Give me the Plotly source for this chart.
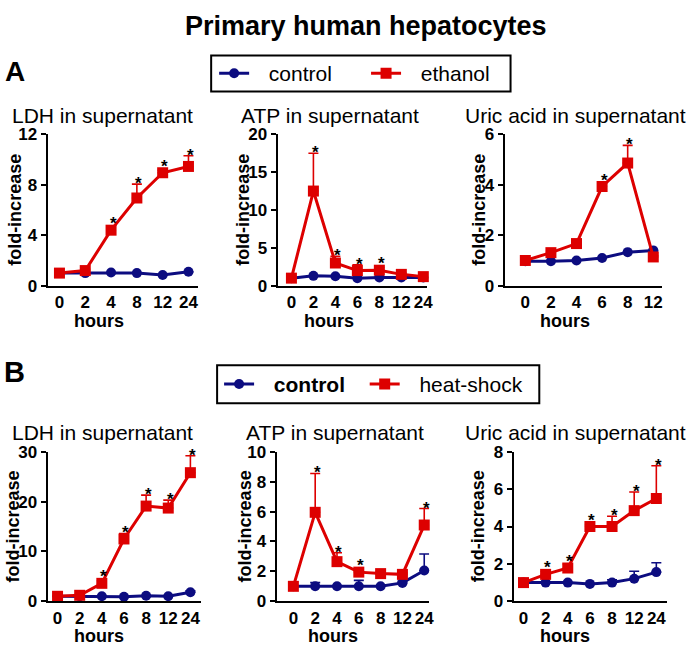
import plotly.graph_objects as go

W, H = 694, 654

# ---------------- data ----------------
hours_A_ldh = ["0", "2", "4", "8", "12", "24"]
hours_A_atp = ["0", "2", "4", "6", "8", "12", "24"]
hours_A_uric = ["0", "2", "4", "6", "8", "12"]
hours_B = ["0", "2", "4", "6", "8", "12", "24"]

A_ldh_control = [1.0, 1.0, 1.05, 1.0, 0.85, 1.1]
A_ldh_control_err = [0, 0, 0, 0, 0, 0]
A_ldh_ethanol = [1.0, 1.2, 4.4, 6.95, 8.95, 9.45]
A_ldh_ethanol_err = [0, 0.1, 0.25, 1.1, 0.2, 0.85]
A_ldh_sig = [0, 0, 1, 1, 1, 1]

A_atp_control = [1.0, 1.3, 1.25, 1.0, 1.1, 1.1, 1.1]
A_atp_control_err = [0, 0, 0, 0, 0, 0, 0]
A_atp_ethanol = [1.0, 12.5, 3.0, 2.0, 2.05, 1.5, 1.2]
A_atp_ethanol_err = [0, 5.0, 0.9, 0.75, 0.35, 0.2, 0]
A_atp_sig = [0, 1, 1, 1, 1, 0, 0]

A_uric_control = [0.97, 0.97, 1.0, 1.1, 1.33, 1.4]
A_uric_control_err = [0, 0, 0, 0, 0, 0]
A_uric_ethanol = [1.0, 1.31, 1.67, 3.93, 4.86, 1.14]
A_uric_ethanol_err = [0, 0.05, 0.05, 0.15, 0.7, 0.05]
A_uric_sig = [0, 0, 0, 1, 1, 0]

B_ldh_control = [1.0, 1.0, 1.0, 0.9, 1.1, 1.0, 1.8]
B_ldh_control_err = [0, 0, 0, 0, 0, 0, 0.3]
B_ldh_heat = [1.0, 1.2, 3.6, 12.5, 19.1, 18.7, 25.8]
B_ldh_heat_err = [0, 0.2, 0.5, 1.1, 2.2, 1.6, 3.4]
B_ldh_sig = [0, 0, 1, 1, 1, 1, 1]

B_atp_control = [1.0, 1.0, 1.0, 1.0, 1.0, 1.23, 2.06]
B_atp_control_err = [0, 0.25, 0, 0.4, 0, 0.1, 1.1]
B_atp_heat = [1.0, 5.95, 2.65, 1.95, 1.85, 1.8, 5.1]
B_atp_heat_err = [0, 2.6, 0.6, 0.15, 0.1, 0.1, 1.1]
B_atp_sig = [0, 1, 1, 1, 0, 0, 1]

B_uric_control = [1.0, 1.0, 1.0, 0.93, 1.0, 1.21, 1.56]
B_uric_control_err = [0, 0, 0, 0, 0.15, 0.4, 0.5]
B_uric_heat = [1.0, 1.44, 1.78, 4.0, 4.0, 4.85, 5.5]
B_uric_heat_err = [0, 0.15, 0.2, 0.1, 0.55, 1.0, 1.75]
B_uric_sig = [0, 1, 1, 1, 1, 1, 1]

# ---------------- style ----------------
RED = "#dd0000"
NAVY = "#0c0c80"
FONT = "Arial, Liberation Sans, sans-serif"
GAP = "\u2002\u2009"           # gap between legend symbol and label
PAD_A = "\u00a0" * 5           # spacing after first legend entry (A)
PAD_B = "\u2002\u2009"         # spacing after first legend entry (B)


def px_x(p):
    return p / W


def px_y(p):
    return 1 - p / H


panels = [
    dict(title="LDH in supernatant", cats=hours_A_ldh, ctrl=A_ldh_control, ctrl_err=A_ldh_control_err,
         trt=A_ldh_ethanol, trt_err=A_ldh_ethanol_err, sig=A_ldh_sig, trt_name="ethanol",
         ymax=12, dtick=4, xdom=(48, 200), ydom=(129, 285), xr=(-0.46, 5.38),
         title_x=103, title_y=110, ytitle_x=15, hours_x=100, hours_y=321, legend="legend", show=True, row="A"),
    dict(title="ATP in supernatant", cats=hours_A_atp, ctrl=A_atp_control, ctrl_err=A_atp_control_err,
         trt=A_atp_ethanol, trt_err=A_atp_ethanol_err, sig=A_atp_sig, trt_name="ethanol",
         ymax=20, dtick=5, xdom=(280, 431), ydom=(129, 285), xr=(-0.63, 6.18),
         title_x=333, title_y=110, ytitle_x=245, hours_x=332, hours_y=321, legend="legend", show=False, row="A"),
    dict(title="Uric acid in supernatant", cats=hours_A_uric, ctrl=A_uric_control, ctrl_err=A_uric_control_err,
         trt=A_uric_ethanol, trt_err=A_uric_ethanol_err, sig=A_uric_sig, trt_name="ethanol",
         ymax=6, dtick=2, xdom=(509, 668), ydom=(129, 285), xr=(-0.81, 5.35),
         title_x=581, title_y=110, ytitle_x=483, hours_x=570, hours_y=321, legend="legend", show=False, row="A"),
    dict(title="LDH in supernatant", cats=hours_B, ctrl=B_ldh_control, ctrl_err=B_ldh_control_err,
         trt=B_ldh_heat, trt_err=B_ldh_heat_err, sig=B_ldh_sig, trt_name="heat-shock",
         ymax=30, dtick=10, xdom=(48, 203), ydom=(456, 610), xr=(-0.45, 6.49),
         title_x=103, title_y=436, ytitle_x=13, hours_x=100, hours_y=646, legend="legend2", show=True, row="B"),
    dict(title="ATP in supernatant", cats=hours_B, ctrl=B_atp_control, ctrl_err=B_atp_control_err,
         trt=B_atp_heat, trt_err=B_atp_heat_err, sig=B_atp_sig, trt_name="heat-shock",
         ymax=10, dtick=2, xdom=(279, 433), ydom=(456, 610), xr=(-0.77, 6.23),
         title_x=338, title_y=436, ytitle_x=247, hours_x=336, hours_y=646, legend="legend2", show=False, row="B"),
    dict(title="Uric acid in supernatant", cats=hours_B, ctrl=B_uric_control, ctrl_err=B_uric_control_err,
         trt=B_uric_heat, trt_err=B_uric_heat_err, sig=B_uric_sig, trt_name="heat-shock",
         ymax=8, dtick=2, xdom=(518, 673), ydom=(456, 610), xr=(-0.45, 6.49),
         title_x=581, title_y=436, ytitle_x=482, hours_x=570, hours_y=646, legend="legend2", show=False, row="B"),
]

fig = go.Figure()
annotations = []
layout = dict(
    width=W, height=H, margin=dict(l=0, r=0, t=0, b=0),
    paper_bgcolor="white", plot_bgcolor="white",
    font=dict(family=FONT, color="black"),
    showlegend=True,
)

for i, p in enumerate(panels):
    n = i + 1
    xa = "x" if n == 1 else f"x{n}"
    ya = "y" if n == 1 else f"y{n}"
    xkey = "xaxis" if n == 1 else f"xaxis{n}"
    ykey = "yaxis" if n == 1 else f"yaxis{n}"
    idx = list(range(len(p["cats"])))

    if p["row"] == "A":
        ctrl_name = GAP + "control" + PAD_A
    else:
        ctrl_name = GAP + "<b>control</b>" + PAD_B
    fig.add_trace(go.Scatter(
        x=idx, y=p["ctrl"], xaxis=xa, yaxis=ya, mode="lines+markers", name=ctrl_name,
        legend=p["legend"], showlegend=p["show"], cliponaxis=False,
        line=dict(color=NAVY, width=3),
        marker=dict(symbol="circle", size=10, color=NAVY),
        error_y=dict(type="data", symmetric=False, array=p["ctrl_err"], arrayminus=[0] * len(idx),
                     color=NAVY, thickness=1.6, width=5),
    ))
    fig.add_trace(go.Scatter(
        x=idx, y=p["trt"], xaxis=xa, yaxis=ya, mode="lines+markers", name=GAP + p["trt_name"],
        legend=p["legend"], showlegend=p["show"], cliponaxis=False,
        line=dict(color=RED, width=3),
        marker=dict(symbol="square", size=11, color=RED),
        error_y=dict(type="data", symmetric=False, array=p["trt_err"], arrayminus=[0] * len(idx),
                     color=RED, thickness=1.6, width=5),
    ))

    layout[xkey] = dict(
        domain=[px_x(p["xdom"][0]), px_x(p["xdom"][1])], anchor=ya, range=list(p["xr"]),
        tickmode="array", tickvals=idx, ticktext=p["cats"], ticks="",
        showline=True, linecolor="black", linewidth=2, showgrid=False, zeroline=False,
        tickfont=dict(family=FONT, size=17, color="black", weight="bold"), fixedrange=True,
    )
    layout[ykey] = dict(
        domain=[px_y(p["ydom"][1]), px_y(p["ydom"][0])], anchor=xa, range=[0, p["ymax"]],
        tick0=0, dtick=p["dtick"], ticks="outside", ticklen=5, tickwidth=2, tickcolor="black",
        showline=True, linecolor="black", linewidth=2, showgrid=False, zeroline=False,
        tickfont=dict(family=FONT, size=17, color="black", weight="bold"), fixedrange=True,
    )

    annotations.append(dict(text=p["title"], xref="paper", yref="paper", x=px_x(p["title_x"]),
                            y=px_y(p["title_y"]), xanchor="center", yanchor="middle", showarrow=False,
                            font=dict(family=FONT, size=21, color="black")))
    ymid = (p["ydom"][0] + p["ydom"][1]) / 2
    annotations.append(dict(text="<b>fold-increase</b>", xref="paper", yref="paper", x=px_x(p["ytitle_x"]),
                            y=px_y(ymid), xanchor="center", yanchor="middle", textangle=-90,
                            showarrow=False, font=dict(family=FONT, size=18, color="black")))
    annotations.append(dict(text="<b>hours</b>", xref="paper", yref="paper", x=px_x(p["hours_x"]),
                            y=px_y(p["hours_y"]), xanchor="center", yanchor="middle", showarrow=False,
                            font=dict(family=FONT, size=18, color="black")))
    ppu = (p["ydom"][1] - p["ydom"][0]) / p["ymax"]
    for j, s in enumerate(p["sig"]):
        if not s:
            continue
        top = p["trt"][j] + p["trt_err"][j]
        extra = max(0.0, 6.0 - p["trt_err"][j] * ppu)
        annotations.append(dict(text="<b>*</b>", xref=xa, yref=ya, x=j, y=top, xanchor="center",
                                yanchor="bottom", yshift=extra - 11, xshift=2, showarrow=False,
                                font=dict(family=FONT, size=17, color="black")))

annotations.append(dict(text="<b>Primary human hepatocytes</b>", xref="paper", yref="paper",
                        x=px_x(369), y=px_y(17), xanchor="center", yanchor="middle", showarrow=False,
                        font=dict(family=FONT, size=27, color="black")))
annotations.append(dict(text="<b>A</b>", xref="paper", yref="paper", x=px_x(3), y=px_y(64),
                        xanchor="left", yanchor="middle", showarrow=False,
                        font=dict(family=FONT, size=28, color="black")))
annotations.append(dict(text="<b>B</b>", xref="paper", yref="paper", x=px_x(2), y=px_y(374),
                        xanchor="left", yanchor="middle", showarrow=False,
                        font=dict(family=FONT, size=29, color="black")))

layout["annotations"] = annotations
layout["shapes"] = [
    dict(type="rect", xref="paper", yref="paper", x0=px_x(213), x1=px_x(515), y0=px_y(85), y1=px_y(48),
         line=dict(color="black", width=2), fillcolor="rgba(0,0,0,0)", layer="below"),
    dict(type="rect", xref="paper", yref="paper", x0=px_x(219), x1=px_x(544), y0=px_y(406), y1=px_y(367),
         line=dict(color="black", width=2), fillcolor="rgba(0,0,0,0)", layer="below"),
]
layout["legend"] = dict(x=px_x(216), y=px_y(66.5), xanchor="left", yanchor="middle", orientation="h",
                        borderwidth=0, bgcolor="rgba(0,0,0,0)",
                        font=dict(family=FONT, size=21, color="black"), itemclick=False)
layout["legend2"] = dict(x=px_x(221), y=px_y(386.5), xanchor="left", yanchor="middle", orientation="h",
                         borderwidth=0, bgcolor="rgba(0,0,0,0)",
                         font=dict(family=FONT, size=21, color="black"), itemclick=False)

fig.update_layout(**layout)
fig.write_html("out.html", config={"displayModeBar": False},
               post_script="document.body.style.margin='0';document.body.style.overflow='hidden';")
